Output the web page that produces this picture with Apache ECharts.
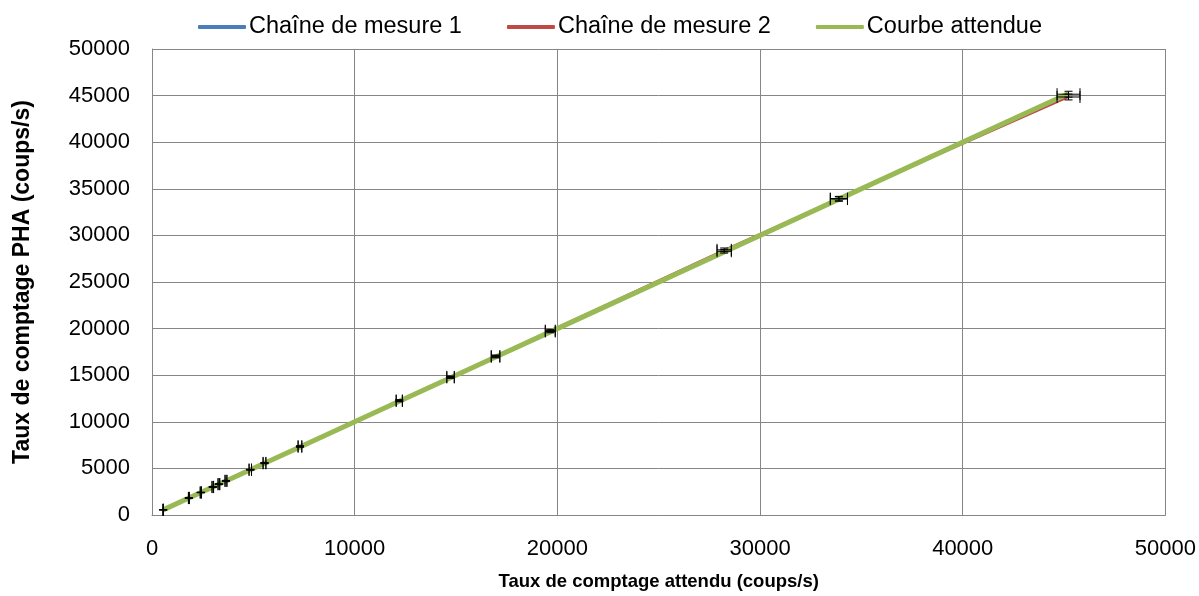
<!DOCTYPE html>
<html>
<head>
<meta charset="utf-8">
<script src="https://cdn.jsdelivr.net/npm/echarts@6/dist/echarts.min.js"></script>
<style>
  html, body { margin: 0; padding: 0; background: #ffffff; }
  #chart { width: 1199px; height: 596px; }
</style>
</head>
<body>
<div id="chart"></div>
<script>
// Expected count rate (x), coups/s
const expectedRate = [550, 1820, 2410, 3000, 3300, 3650, 4850, 5550, 7300, 12200, 14730, 16950, 19650, 28230, 33890, 45220];
// Measured PHA count rate, chain 1
const chain1Rate = [550, 1815, 2405, 2995, 3300, 3645, 4845, 5545, 7320, 12230, 14760, 16980, 19690, 28300, 33900, 45150];
// Measured PHA count rate, chain 2
const chain2Rate = [560, 1840, 2430, 3020, 3320, 3680, 4880, 5590, 7380, 12290, 14820, 17050, 19780, 28450, 33950, 44850];
// Expected response (PHA rate equal to the expected rate)
const expectedCurve = [550, 1820, 2410, 3000, 3300, 3650, 4850, 5550, 7300, 12200, 14730, 16950, 19650, 28230, 33890, 45220];

// Relative uncertainties (%) on each axis
const xErrorPct = 1.25;
const yErrorPct = 0.7;

// Axis ranges and tick steps
const xTicks = [0, 10000, 20000, 30000, 40000, 50000];
const yTicks = [0, 5000, 10000, 15000, 20000, 25000, 30000, 35000, 40000, 45000, 50000];
const seriesNames = ['Chaîne de mesure 1', 'Chaîne de mesure 2', 'Courbe attendue'];

const FONT = '"Liberation Sans", Arial, sans-serif';

function pairs(xs, ys) {
  return xs.map((x, i) => [x, ys[i]]);
}

// Error bars: one horizontal (x) and one vertical (y) bar per point, with caps
function errorBarRenderer(params, api) {
  const x = api.value(0);
  const y = api.value(1);
  const dx = x * xErrorPct / 100;
  const dy = y * yErrorPct / 100;
  const left = api.coord([x - dx, y]);
  const right = api.coord([x + dx, y]);
  const top = api.coord([x, y + dy]);
  const bottom = api.coord([x, y - dy]);
  const xCap = 6;
  const yCap = 4;
  const style = { stroke: '#000000', lineWidth: 1, fill: null };
  const line = (x1, y1, x2, y2) => ({
    type: 'line',
    shape: { x1, y1, x2, y2 },
    style
  });
  return {
    type: 'group',
    children: [
      line(left[0], left[1], right[0], right[1]),
      line(left[0], left[1] - xCap, left[0], left[1] + xCap),
      line(right[0], right[1] - xCap, right[0], right[1] + xCap),
      line(top[0], top[1], bottom[0], bottom[1]),
      line(top[0] - yCap, top[1], top[0] + yCap, top[1]),
      line(bottom[0] - yCap, bottom[1], bottom[0] + yCap, bottom[1])
    ]
  };
}

function makeAxis(ticks, extra) {
  return Object.assign({
    type: 'value',
    min: ticks[0],
    max: ticks[ticks.length - 1],
    interval: ticks[1] - ticks[0],
    axisLine: { show: true, lineStyle: { color: '#868686', width: 1 } },
    axisTick: { show: false },
    splitLine: { show: true, lineStyle: { color: '#868686', width: 1 } },
    nameLocation: 'middle'
  }, extra);
}

const labelStyle = (margin) => ({
  color: '#000000',
  fontFamily: FONT,
  fontSize: 22,
  margin: margin,
  formatter: (v) => String(v)
});

const chart = echarts.init(document.getElementById('chart'), null, { renderer: 'canvas' });

chart.setOption({
  animation: false,
  backgroundColor: '#ffffff',
  grid: { left: 152, right: 32, top: 49, bottom: 79, containLabel: false },
  legend: {
    data: seriesNames.map((n) => ({ name: n, icon: 'roundRect' })),
    left: 193,
    top: 10,
    itemWidth: 48,
    itemHeight: 4,
    itemGap: 45,
    textStyle: { color: '#000000', fontFamily: FONT, fontSize: 23.5, padding: [0, 0, 0, -2] }
  },
  xAxis: makeAxis(xTicks, {
    name: 'Taux de comptage attendu (coups/s)',
    nameGap: 57,
    nameTextStyle: { color: '#000000', fontFamily: FONT, fontSize: 18.5, fontWeight: 'bold' },
    axisLabel: labelStyle(23)
  }),
  yAxis: makeAxis(yTicks, {
    name: 'Taux de comptage PHA (coups/s)',
    nameGap: 118,
    nameTextStyle: { color: '#000000', fontFamily: FONT, fontSize: 23, fontWeight: 'bold' },
    axisLabel: labelStyle(22)
  }),
  series: [
    {
      name: seriesNames[0],
      type: 'line',
      data: pairs(expectedRate, chain1Rate),
      symbol: 'none',
      lineStyle: { color: '#4A7EBB', width: 2 },
      itemStyle: { color: '#4A7EBB' },
      z: 2
    },
    {
      name: seriesNames[1],
      type: 'line',
      data: pairs(expectedRate, chain2Rate),
      symbol: 'none',
      lineStyle: { color: '#BE4B48', width: 2 },
      itemStyle: { color: '#BE4B48' },
      z: 3
    },
    {
      name: seriesNames[2],
      type: 'line',
      data: pairs(expectedRate, expectedCurve),
      symbol: 'none',
      lineStyle: { color: '#98B954', width: 5 },
      itemStyle: { color: '#98B954' },
      z: 4
    },
    {
      type: 'custom',
      data: pairs(expectedRate, chain1Rate),
      renderItem: errorBarRenderer,
      silent: true,
      z: 6
    },
    {
      type: 'custom',
      data: pairs(expectedRate, chain2Rate),
      renderItem: errorBarRenderer,
      silent: true,
      z: 6
    }
  ]
});
</script>
</body>
</html>
